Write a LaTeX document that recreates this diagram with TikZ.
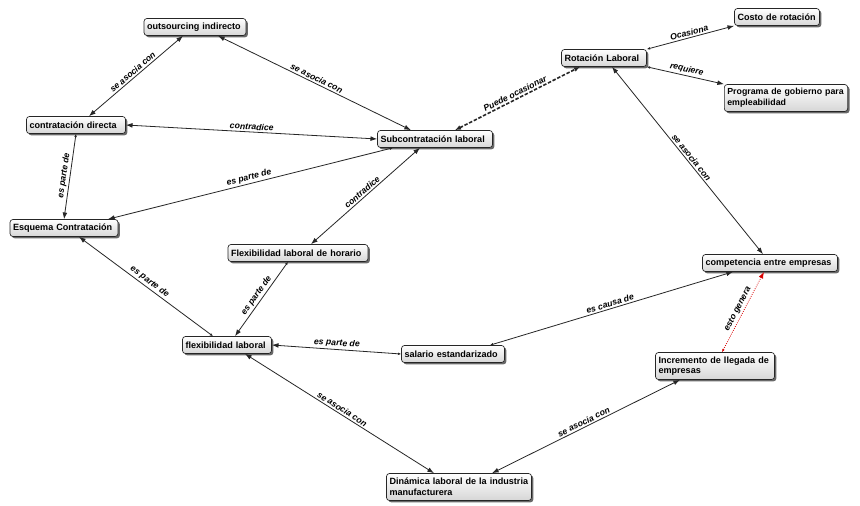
\documentclass[tikz,border=0pt]{standalone}
\usepackage{fontspec}
\setmainfont{Liberation Sans}
\usetikzlibrary{arrows.meta,shadows,calc}
\begin{document}
\begin{tikzpicture}[x=0.75pt,y=-0.75pt,
  concept/.style={draw=black!85, line width=0.5pt, rounded corners=2.2pt,
    top color=white, bottom color=black!16,
    drop shadow={shadow xshift=1.4pt, shadow yshift=-1.4pt, fill=black!65, opacity=0.9},
    font=\bfseries\fontsize{6.8}{8}\selectfont, align=left,
    inner xsep=2.25pt, inner ysep=1pt, minimum height=12.75pt},
  tw/.style={text width=#1pt},
  lab/.style={font=\bfseries\itshape\fontsize{6.5}{7.5}\selectfont, sloped, above, inner sep=1.2pt, text=black},
  conn/.style={draw=black!85, line width=0.6pt},
  both/.style={conn, {Latex[length=5pt,width=3.6pt]}-{Latex[length=5pt,width=3.6pt]}},
  onew/.style={conn, {Latex[length=2.4pt,width=2pt]}-{Latex[length=5pt,width=3.6pt]}},
]
\useasboundingbox[fill=white] (0,0) rectangle (860,506);

% nodes
\node[concept,tw=72]    (outs)  at (195,27)  {outsourcing indirecto};
\node[concept,tw=69.75] (contr) at (76,125)  {contratación directa};
\node[concept,tw=81.75] (sub)   at (435,139) {Subcontratación laboral};
\node[concept,tw=76.5]  (esq)   at (64,228)  {Esquema Contratación};
\node[concept,tw=100.5] (hor)   at (298,253) {Flexibilidad laboral de horario};
\node[concept,tw=62.25] (flex)  at (227,345) {flexibilidad laboral};
\node[concept,tw=72.75] (sal)   at (453,354) {salario estandarizado};
\node[concept,tw=104.25,minimum height=20.25pt] (din) at (459,487) {Dinámica laboral de la industria\\manufacturera};
\node[concept,tw=84.75,minimum height=20.25pt] (incr) at (715,366) {Incremento de llegada de\\empresas};
\node[concept,tw=96.75] (comp)  at (770,263) {competencia entre empresas};
\node[concept,tw=59.25] (rot)   at (604,58)  {Rotación Laboral};
\node[concept,tw=59.25] (costo) at (777,17)  {Costo de rotación};
\node[concept,tw=88,minimum height=20.25pt,font=\bfseries\fontsize{6.6}{8}\selectfont] (prog) at (786,98) {Programa de gobierno para\\empleabilidad};

% connectors
\draw[both] ($(contr.north)+(13,0)$) -- node[lab]{se asocia con} ($(outs.south)+(-12,0)$);
\draw[both] ($(outs.south)+(23,0)$) -- node[lab]{se asocia con} ($(sub.north)+(-24,0)$);
\draw[both] (contr.east) -- node[lab]{contradice} (sub.west);
\draw[onew] (contr.south) -- node[lab]{es parte de} (esq.north);
\draw[onew] ($(sub.south)+(-42,0)$) -- node[lab]{es parte de} ($(esq.north)+(44,0)$);
\draw[both] ($(sub.south)+(-15,0)$) -- node[lab]{contradice} ($(hor.north)+(13,0)$);
\draw[both, line width=1.2pt, dash pattern=on 2.6pt off 1.3pt,
      {Latex[length=4.5pt,width=3.6pt]}-{Latex[length=4.5pt,width=3.6pt]}]
      ($(sub.north)+(20,0)$) -- node[lab,solid]{Puede ocasionar} ($(rot.south)+(-24,0)$);
\draw[onew] (rot.north east) -- node[lab]{Ocasiona} (costo.south west);
\draw[onew] (rot.south east) -- node[lab]{requiere} (prog.north west);
\draw[both] ($(rot.south)+(8,0)$) -- node[lab]{se asocia con} ($(comp.north)+(-7,0)$);
\draw[onew] ($(flex.north)+(-14,0)$) -- node[lab]{es parte de} ($(esq.south)+(15,0)$);
\draw[onew] ($(hor.south)+(-10,0)$) -- node[lab]{es parte de} ($(flex.north)+(8,0)$);
\draw[onew] (sal.west) -- node[lab]{es parte de} (flex.east);
\draw[onew] ($(sal.north)+(37,0)$) -- node[lab]{es causa de} ($(comp.south)+(-37,0)$);
\draw[both] ($(flex.south)+(18,0)$) -- node[lab]{se asocia con} ($(din.north)+(-25,0)$);
\draw[both] ($(din.north)+(33,0)$) -- node[lab]{se asocia con} ($(incr.south)+(-35,0)$);
\draw[draw=red!85!black, line width=0.6pt, densely dotted,
      {Latex[length=2.4pt,width=2pt]}-{Latex[length=5pt,width=3.6pt]}]
      ($(incr.north)+(7,0)$) -- node[lab]{esto genera} ($(comp.south)+(-6,0)$);
\end{tikzpicture}
\end{document}
